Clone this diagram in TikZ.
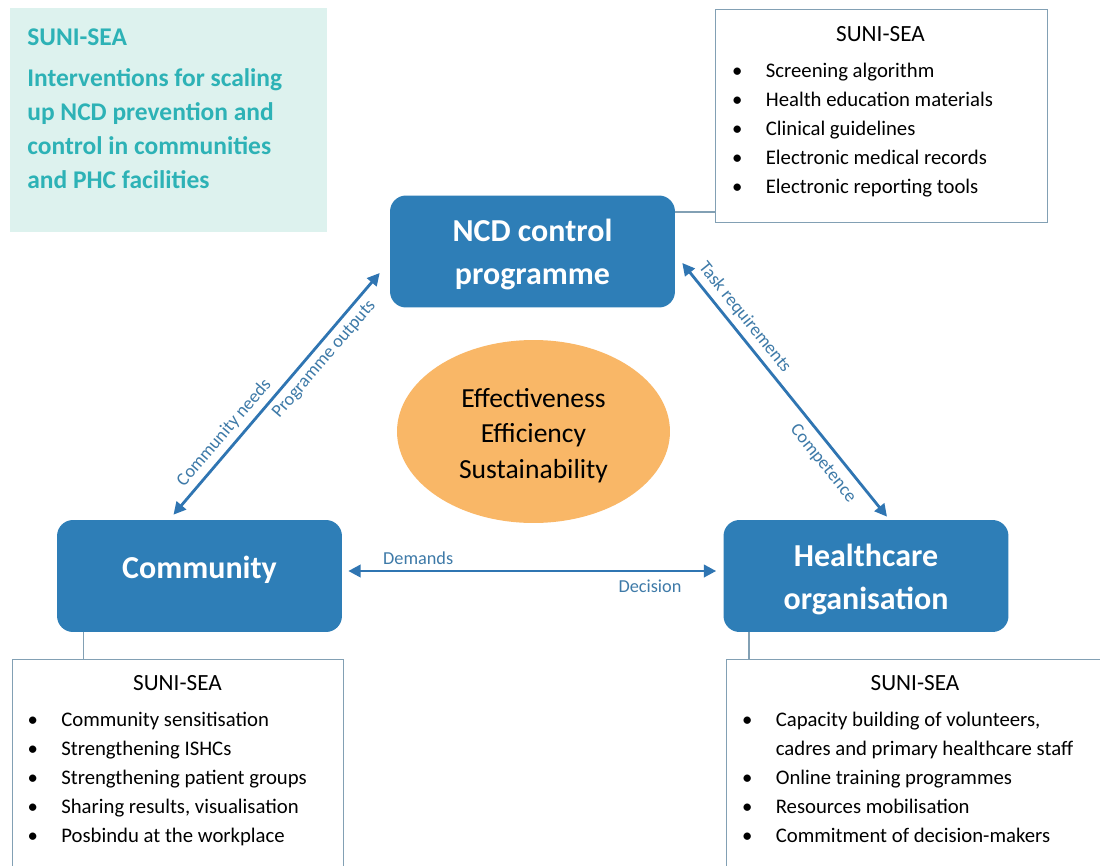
\documentclass[tikz,border=0pt]{standalone}
\usepackage{fontspec}
\setmainfont{Carlito}
\usetikzlibrary{arrows.meta,shapes.geometric}

\definecolor{progblue}{RGB}{46,126,183}
\definecolor{arrowblue}{RGB}{47,117,178}
\definecolor{labelblue}{RGB}{62,122,168}
\definecolor{mintbg}{RGB}{221,242,238}
\definecolor{tealtext}{RGB}{45,178,182}
\definecolor{boxline}{RGB}{130,160,180}
\definecolor{efforange}{RGB}{249,183,103}

\newcommand{\bul}{\makebox[0pt]{\textbullet}\hspace{0.57cm}}
\newcommand{\contline}{\hspace*{0.57cm}}
\newcommand{\toppad}[1]{\mbox{}\\[-#1]}

\begin{document}
\begin{tikzpicture}[x=0.02cm, y=-0.02cm,
    prog/.style={rectangle, rounded corners=0.32cm, fill=progblue, text=white, align=center,
        minimum width=5.7cm, minimum height=2.24cm, font=\bfseries\fontsize{18.2}{24.4}\selectfont},
    listbox/.style={rectangle, draw=boxline, line width=0.6pt, fill=white, anchor=north west, inner sep=0pt},
    listhead/.style={inner sep=0pt, font=\fontsize{13.2}{16}\selectfont},
    listtext/.style={anchor=north west, align=left, inner sep=0pt, font=\fontsize{11.8}{16.44}\selectfont},
    link/.style={draw=arrowblue, line width=1.6pt, {Triangle[length=7pt,width=7pt]}-{Triangle[length=7pt,width=7pt]}},
    linklabel/.style={sloped, text=labelblue, font=\fontsize{10.4}{12}\selectfont, inner sep=3pt},
    connect/.style={draw=boxline, line width=0.6pt}]

    \path[use as bounding box, fill=white] (0,0) rectangle (1100,866);

    % Title box
    \node (info) [rectangle, fill=mintbg, anchor=north west, inner sep=0pt,
        minimum width=6.34cm, minimum height=4.48cm] at (10,8) {};
    \node (infotext) [anchor=north west, align=left, inner sep=0pt, text=tealtext,
        font=\bfseries\fontsize{14.5}{19.3}\selectfont] at (27,28)
        {SUNI-SEA\\[4.5pt] Interventions for scaling\\ up NCD prevention and\\ control in communities\\ and PHC facilities};

    % Actors
    \node (ncd) [prog] at (532.5,251.5) {\toppad{8.3pt}NCD control\\programme};
    \node (comm) [prog, text depth=9.7pt] at (199.5,576) {Community};
    \node (hc) [prog] at (866,576) {\toppad{7.2pt}Healthcare\\organisation};

    % Centre
    \node (eff) [ellipse, fill=efforange, inner sep=0pt, align=center,
        minimum width=5.46cm, minimum height=3.66cm,
        font=\fontsize{15.7}{20.4}\selectfont] at (533.5,431.5)
        {\toppad{4.9pt}Effectiveness\\Efficiency\\Sustainability};

    % Interventions per actor
    \node (trbox) [listbox, minimum width=6.64cm, minimum height=4.26cm] at (715,9) {};
    \node (trhead) [listhead] at (880.5,34) {SUNI-SEA};
    \node (trlist) [listtext] at (737,63)
        {\bul Screening algorithm\\ \bul Health education materials\\ \bul Clinical guidelines\\
         \bul Electronic medical records\\ \bul Electronic reporting tools};

    \node (blbox) [listbox, minimum width=6.62cm, minimum height=4.42cm] at (12,659) {};
    \node (blhead) [listhead] at (177.5,683) {SUNI-SEA};
    \node (bllist) [listtext] at (32.5,712)
        {\bul Community sensitisation\\ \bul Strengthening ISHCs\\ \bul Strengthening patient groups\\
         \bul Sharing results, visualisation\\ \bul Posbindu at the workplace};

    \node (brbox) [listbox, minimum width=7.56cm, minimum height=4.42cm] at (726,659) {};
    \node (brhead) [listhead] at (915,683) {SUNI-SEA};
    \node (brlist) [listtext] at (747,712)
        {\bul Capacity building of volunteers,\\ \contline cadres and primary healthcare staff\\
         \bul Online training programmes\\ \bul Resources mobilisation\\ \bul Commitment of decision-makers};

    % Connectors to the lists
    \coordinate (ncdtap) at ([shift={(0,-39.5)}]ncd.east);
    \draw[connect] (ncdtap) -- (ncdtap -| trbox.west);
    \coordinate (commtap) at ([shift={(-116,0)}]comm.south);
    \draw[connect] (commtap) -- (commtap |- blbox.north);
    \coordinate (hctap) at ([shift={(-117,0)}]hc.south);
    \draw[connect] (hctap) -- (hctap |- brbox.north);

    % Exchanges
    \draw[link] ([shift={(-26,-5)}]comm.north) --
        node[linklabel, above, pos=0.30] (needs) {Community needs}
        node[linklabel, below, pos=0.68] (outputs) {Programme outputs}
        ([shift={(-10,21.5)}]ncd.west);
    \draw[link] ([shift={(7,11.5)}]ncd.east) --
        node[linklabel, above, pos=0.25] (taskreq) {Task requirements}
        node[linklabel, below=1.5pt, pos=0.75] (compet) {Competence}
        ([shift={(21,-3)}]hc.north);
    \draw[link] ([shift={(6,-5)}]comm.east) --
        node[linklabel, above, pos=0.19] (demands) {Demands}
        node[linklabel, below=1pt, pos=0.82] (decision) {Decision}
        ([shift={(-7,-5)}]hc.west);

\end{tikzpicture}
\end{document}
